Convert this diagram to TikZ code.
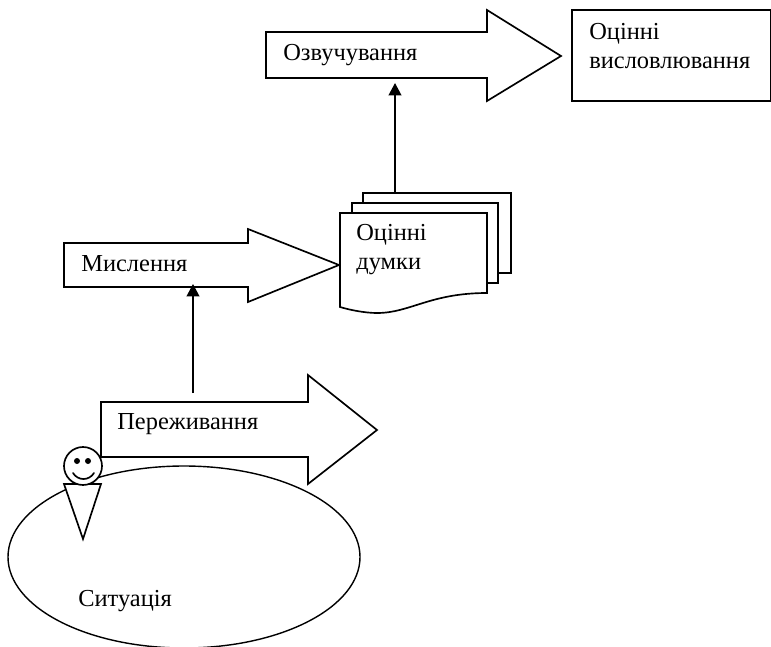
\documentclass[tikz,border=0pt]{standalone}
\usepackage{fontspec}
\setmainfont{Liberation Serif}
\usetikzlibrary{positioning, arrows.meta}
\tikzset{
  outline/.style={line width=.95pt, line join=miter},
  connector/.style={line width=.95pt, -{Triangle[length=7pt,width=7.2pt]}},
  caption/.style={anchor=base west, inner sep=0pt, align=left, font=\fontsize{13.9}{16}\selectfont},
}
\begin{document}
\begin{tikzpicture}[x=.02cm,y=-.02cm]
    \useasboundingbox (0,0) rectangle (771,646);
    % situation and person
    \begin{scope}
    \clip (0,0) rectangle (771,646);
    \draw[line width=.8pt](184,557) ellipse (176 and 91);
    \end{scope}
    \draw[outline,fill=white](64,484)--(101,484)--(83,539)--cycle;
    \draw[outline,fill=white](83,466) circle (19);
    \fill(77,461) circle (3);
    \fill(88,461) circle (3);
    \draw[outline,line cap=round](73,473) .. controls (78,481) and (89,481) .. (94,473);
    % block arrows
    \draw[outline,fill=white](101,457)--(101,402)--(308,402)--(308,375)--(377,430)--(308,484)--(308,457)--cycle;
    \draw[outline,fill=white](64,287)--(64,243)--(248,243)--(248,229)--(339,265)--(248,302)--(248,287)--cycle;
    \draw[outline,fill=white](266,78)--(266,32)--(487,32)--(487,10)--(561,56)--(487,101)--(487,78)--cycle;
    % pages
    \draw[outline,fill=white](363,193)rectangle(511,273);
    \draw[outline,fill=white](352,203)rectangle(498,283);
    \draw[outline,fill=white](340,213)--(487,213)--(487,293) .. controls (430,293) and (410,313) .. (377,313) .. controls (365,313) and (350,310) .. (340,307)--cycle;
    \draw[outline](572,10)--(771,10)--(771,101)--(572,101)--cycle;
    % connectors
    \coordinate (feeling) at (193,393);
    \coordinate (thinking) at (193,284);
    \coordinate (pages) at (395,193);
    \coordinate (voicing) at (395,83);
    \draw[connector](feeling)--(thinking);
    \draw[connector](pages)--(voicing);
    % labels
    \node[caption] (ozv) at (283,60){Озвучування};
    \node[caption] (ots) at (589,68){Оцінні\\висловлювання};
    \node[caption] (dum) at (356,269){Оцінні\\думки};
    \node[caption] (mys) at (81,271){Мислення};
    \node[caption] (per) at (117,429){Переживання};
    \node[caption] (sit) at (78,606){Ситуація};
\end{tikzpicture}
\end{document}
